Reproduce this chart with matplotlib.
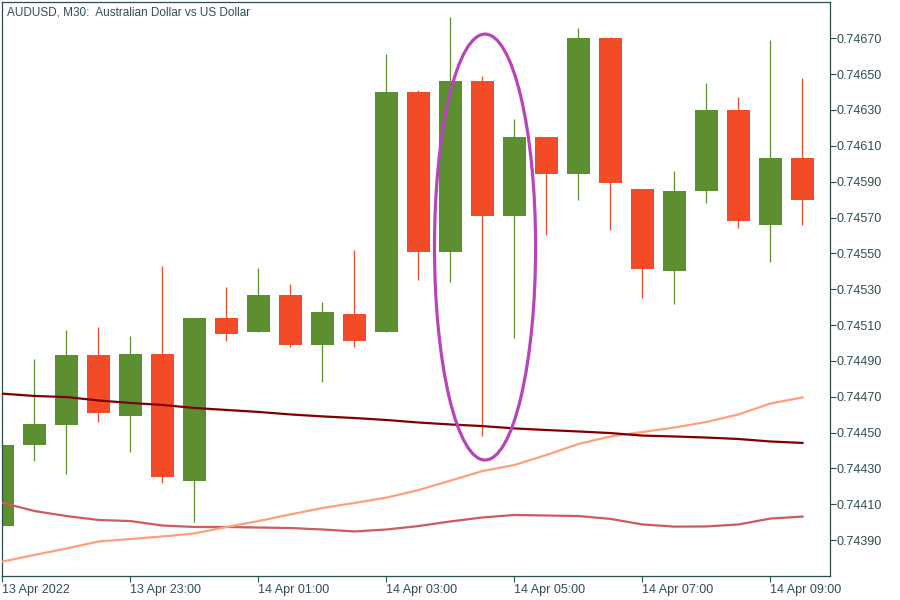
import matplotlib
matplotlib.use("Agg")
import matplotlib.pyplot as plt
from matplotlib.patches import Ellipse
from matplotlib.ticker import FormatStrFormatter
import numpy as np
import pandas as pd

# AUDUSD M30 candles, 13 Apr 21:00 .. 14 Apr 09:30
times = pd.date_range("2022-04-13 21:00", periods=26, freq="30min")
opens = [0.74398, 0.74443, 0.74454, 0.74493, 0.74459, 0.74494, 0.74423, 0.74514, 0.74506, 0.74527,
         0.74499, 0.74516, 0.74506, 0.74640, 0.74551, 0.74646, 0.74571, 0.74615, 0.74594, 0.74670,
         0.74586, 0.74540, 0.74585, 0.74630, 0.74566, 0.74603]
highs = [0.74443, 0.74491, 0.74507, 0.74509, 0.74504, 0.74543, 0.74514, 0.74531, 0.74542, 0.74533,
         0.74523, 0.74552, 0.74661, 0.74641, 0.74682, 0.74649, 0.74625, 0.74615, 0.74676, 0.74671,
         0.74586, 0.74596, 0.74645, 0.74637, 0.74669, 0.74648]
lows = [0.74398, 0.74434, 0.74427, 0.74456, 0.74439, 0.74422, 0.74400, 0.74501, 0.74506, 0.74498,
        0.74478, 0.74498, 0.74506, 0.74535, 0.74534, 0.74448, 0.74503, 0.74560, 0.74580, 0.74563,
        0.74525, 0.74522, 0.74578, 0.74564, 0.74545, 0.74566]
closes = [0.74443, 0.74455, 0.74493, 0.74461, 0.74494, 0.74425, 0.74514, 0.74505, 0.74527, 0.74499,
          0.74517, 0.74501, 0.74640, 0.74551, 0.74646, 0.74571, 0.74615, 0.74594, 0.74670, 0.74589,
          0.74541, 0.74585, 0.74630, 0.74568, 0.74603, 0.74580]

# moving averages
ma_slow = [0.744717, 0.744704, 0.744698, 0.744679, 0.744665, 0.744654, 0.744637, 0.744626, 0.744615, 0.744601,
           0.744590, 0.744581, 0.744570, 0.744556, 0.744545, 0.744536, 0.744523, 0.744514, 0.744506, 0.744497,
           0.744483, 0.744478, 0.744472, 0.744464, 0.744450, 0.744442]
ma_fast = [0.743780, 0.743817, 0.743853, 0.743892, 0.743906, 0.743920, 0.743937, 0.743973, 0.744006, 0.744043,
           0.744079, 0.744107, 0.744137, 0.744179, 0.744232, 0.744285, 0.744319, 0.744375, 0.744436, 0.744478,
           0.744503, 0.744528, 0.744559, 0.744601, 0.744662, 0.744696]
ma_mid = [0.744108, 0.744062, 0.744034, 0.744012, 0.744006, 0.743981, 0.743973, 0.743973, 0.743970, 0.743967,
          0.743959, 0.743948, 0.743959, 0.743978, 0.744004, 0.744026, 0.744040, 0.744037, 0.744034, 0.744018,
          0.743987, 0.743975, 0.743976, 0.743987, 0.744020, 0.744031]

tick_idx = [0, 4, 8, 12, 16, 20, 24]
tick_labels = ["13 Apr 2022"] + [times[i].strftime("%d Apr %H:%M").lstrip("0") for i in tick_idx[1:]]

green = "#5b8f30"
red = "#f24b26"
frame = "#2f4f4f"

plt.rcParams["font.family"] = ["Liberation Sans", "DejaVu Sans"]

fig = plt.figure(figsize=(9, 6), dpi=100)
ax = fig.add_axes([2 / 900, 24 / 600, 828 / 900, 574 / 600])

x = np.arange(len(opens))
o = np.array(opens)
c = np.array(closes)
cols = [green if cc >= oo else red for oo, cc in zip(o, c)]

ax.vlines(x, lows, highs, colors=cols, linewidth=0.9, zorder=1)
ax.bar(x, np.abs(c - o), bottom=np.minimum(o, c), width=0.72, color=cols, zorder=2)

ax.plot(x, ma_mid, color="#cd5c5c", lw=1.6, zorder=3)
ax.plot(x, ma_fast, color="#ffa07a", lw=1.6, zorder=3)
ax.plot(x, ma_slow, color="#800000", lw=1.6, zorder=3)

ell = Ellipse((15.08, 0.745535), 3.16, 0.002377, fill=False, edgecolor="#b844bc", lw=2.3, zorder=4)
ax.add_patch(ell)

ax.set_xlim(-0.0156, 25.86)
ax.set_ylim(0.7436994, 0.7469026)

ax.yaxis.tick_right()
ax.set_yticks(np.arange(0.74390, 0.74671, 0.0002))
ax.yaxis.set_major_formatter(FormatStrFormatter("%.5f"))
ax.set_xticks(tick_idx)
ax.set_xticklabels(tick_labels, ha="left")
ax.tick_params(axis="both", colors=frame, labelcolor=frame, labelsize=9, length=4, width=0.8, direction="out")
ax.tick_params(axis="x", pad=2)
ax.tick_params(axis="y", pad=1)
for s in ax.spines.values():
    s.set_color(frame)
    s.set_linewidth(0.9)

ax.text(0.006, 0.992, "AUDUSD, M30:  Australian Dollar vs US Dollar", transform=ax.transAxes,
        ha="left", va="top", fontsize=8.5, color=frame)

fig.savefig("out.png", dpi=100)
